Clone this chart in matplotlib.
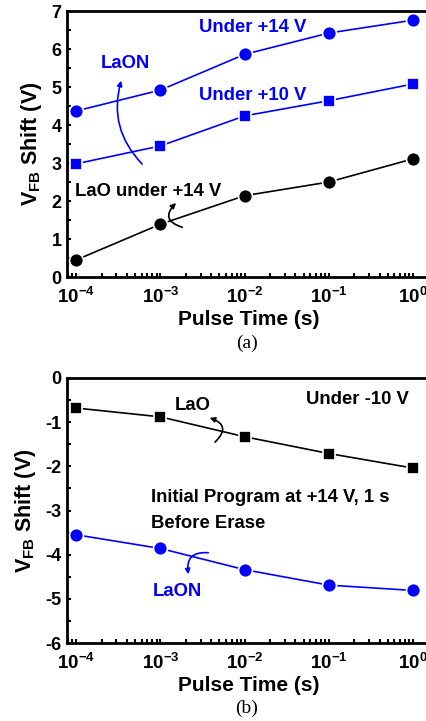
import numpy as np
import matplotlib
matplotlib.use("Agg")
import matplotlib.pyplot as plt
from matplotlib.patches import FancyArrowPatch
from matplotlib.ticker import FixedLocator, LogLocator, NullFormatter, MultipleLocator

plt.rcParams['font.family'] = ['Liberation Sans', 'DejaVu Sans']
plt.rcParams['font.weight'] = 'bold'
plt.rcParams['mathtext.fontset'] = 'custom'
plt.rcParams['mathtext.bf'] = 'Liberation Sans:bold'
plt.rcParams['mathtext.rm'] = 'Liberation Sans:bold'

# pulse times (s)
t = [1e-4, 1e-3, 1e-2, 1e-1, 1e0]
xtick_labels = [r'$\mathbf{10^{-4}}$', r'$\mathbf{10^{-3}}$', r'$\mathbf{10^{-2}}$',
                r'$\mathbf{10^{-1}}$', r'$\mathbf{10^{0}}$']

# (a) program
laon_14 = [4.37, 4.92, 5.86, 6.42, 6.76]
laon_10 = [2.98, 3.45, 4.24, 4.64, 5.08]
lao_14 = [0.45, 1.39, 2.14, 2.50, 3.11]

# (b) erase
lao_erase = [-0.68, -0.88, -1.33, -1.71, -2.04]
laon_erase = [-3.55, -3.86, -4.34, -4.69, -4.81]

BLUE = '#0000ff'
W, H = 426, 721
fig = plt.figure(figsize=(W / 100, H / 100), dpi=100)

def px_axes(x0, y0, x1, y1):
    return fig.add_axes([x0 / W, 1 - y1 / H, (x1 - x0) / W, (y1 - y0) / H])

def style(ax, ylim, yticks):
    ax.set_xscale('log')
    ax.set_xlim(10 ** -4.11, 10 ** 0.2)
    ax.set_ylim(*ylim)
    ax.xaxis.set_major_locator(FixedLocator(t))
    ax.set_xticklabels(xtick_labels, fontsize=13.5)
    ax.xaxis.set_minor_locator(LogLocator(base=10, subs=np.arange(2, 10)))
    ax.xaxis.set_minor_formatter(NullFormatter())
    ax.set_yticks(yticks)
    ax.set_yticklabels([str(v) for v in yticks], fontsize=13, fontweight='bold')
    ax.yaxis.set_minor_locator(MultipleLocator(0.5))
    ax.tick_params(which='both', direction='in', width=1.5, length=3,
                   top=False, right=False)
    ax.tick_params(axis='x', pad=7)
    ax.tick_params(axis='y', pad=4)
    for s in ax.spines.values():
        s.set_linewidth(2)
    ax.set_xlabel('Pulse Time (s)', fontsize=15, fontweight='bold', labelpad=2)
    ax.set_ylabel(r'$\mathbf{V_{FB}}$ Shift (V)', fontsize=15.5, fontweight='bold', labelpad=5)

def curve(p0, p1, rad, color):
    a = FancyArrowPatch(p0, p1, connectionstyle=f'arc3,rad={rad}',
                        arrowstyle='-|>,head_length=3,head_width=1.5',
                        color=color, lw=1.2, mutation_scale=1,
                        transform=fig.transFigure)
    fig.patches.append(a)

def fp(x, y):
    return (x / W, 1 - y / H)

def label(x, y, s, color='black', ha='center'):
    fig.text(x / W, 1 - y / H, s, color=color, fontsize=13.3, ha=ha, va='center')

mk = dict(markeredgecolor='white', markeredgewidth=1.2, lw=1.2)

# ---- (a)
ax1 = px_axes(67, 11, 430, 277)
ax1.plot(t, laon_14, 'o', color=BLUE, ms=10, ls='-', **mk)
ax1.plot(t, laon_10, 's', color=BLUE, ms=9, ls='-', **mk)
ax1.plot(t, lao_14, 'o', color='black', ms=10, ls='-', **mk)
style(ax1, (0, 7), list(range(0, 8)))
label(253, 28, 'Under +14 V', BLUE)
label(125, 64, 'LaON', BLUE)
label(253, 96, 'Under +10 V', BLUE)
label(148, 191, 'LaO under +14 V')
curve(fp(144, 166), fp(122, 78), -0.3, BLUE)
curve(fp(185, 228), fp(178, 201), -0.9, 'black')
fig.text(247 / W, 1 - 343 / H, '(a)', family='Liberation Serif', fontweight='normal',
         fontsize=14, ha='center', va='center')

# ---- (b)
ax2 = px_axes(67, 378, 430, 643)
ax2.plot(t, lao_erase, 's', color='black', ms=9, ls='-', **mk)
ax2.plot(t, laon_erase, 'o', color=BLUE, ms=10, ls='-', **mk)
style(ax2, (-6, 0), list(range(-6, 1)))
label(357, 400, 'Under -10 V')
label(193, 405, 'LaO')
label(151, 498, 'Initial Program at +14 V, 1 s', ha='left')
label(151, 524, 'Before Erase', ha='left')
label(177, 591, 'LaON', BLUE)
curve(fp(213, 444), fp(207, 417), 0.9, 'black')
curve(fp(211, 553), fp(189, 577), 0.7, BLUE)
fig.text(247 / W, 1 - 708 / H, '(b)', family='Liberation Serif', fontweight='normal',
         fontsize=14, ha='center', va='center')

fig.savefig('out.png', dpi=100)
